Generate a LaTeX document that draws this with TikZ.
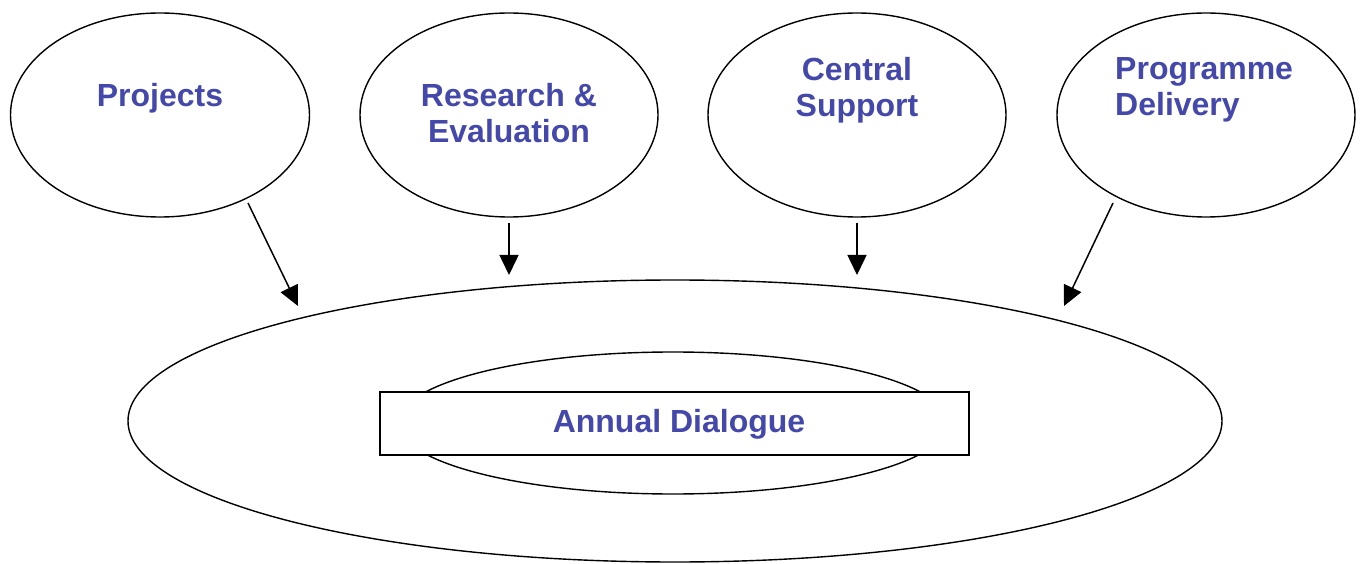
\documentclass[tikz,border=0pt]{standalone}
\usepackage{fontspec}
\setmainfont{Liberation Sans}
\usetikzlibrary{shapes.geometric,arrows.meta}
\definecolor{txtblue}{RGB}{67,72,170}
\tikzset{
  oval/.style={draw=black, line width=1.4pt, ellipse, inner sep=0pt},
  lbl/.style={text=txtblue, font=\bfseries\fontsize{32}{36}\selectfont, inner sep=0pt},
  arr/.style={line width=1.5pt, -{Triangle[length=20pt,width=19pt]}},
}
\begin{document}
\begin{tikzpicture}[x=1pt,y=-1pt]
\useasboundingbox (0,0) rectangle (1361,564);
% top ellipses
\node[oval, minimum width=299pt, minimum height=204pt] (e1) at (160,115) {};
\node[oval, minimum width=298pt, minimum height=204pt] (e2) at (509,115) {};
\node[oval, minimum width=298pt, minimum height=204pt] (e3) at (857,115) {};
\node[oval, minimum width=298pt, minimum height=204pt] (e4) at (1206,115) {};
% big ellipses
\node[oval, minimum width=1094pt, minimum height=282pt] (big) at (675,421) {};
\node[oval, minimum width=550pt, minimum height=142pt] (inner) at (673,423) {};
\node[draw=black, line width=1.4pt, fill=white, minimum width=589pt, minimum height=63pt, inner sep=0pt] (box) at (674.5,423.5) {};
% labels
\node[lbl] (t1) at (160,98) {Projects};
\node[lbl, align=center] (t2) at (509,113) {Research \&\\Evaluation};
\node[lbl, align=center] (t3) at (857,90) {Central\\Support};
\node[lbl, align=left, anchor=west] (t4) at (1115,90) {Programme\\Delivery};
\node[lbl] (t5) at (679,424) {Annual Dialogue};
% arrows
\coordinate (a1s) at (248,203); \coordinate (a1e) at (298,306);
\coordinate (a2s) at (509,223); \coordinate (a2e) at (509,275);
\coordinate (a3s) at (857,223); \coordinate (a3e) at (857,275);
\coordinate (a4s) at (1113,203); \coordinate (a4e) at (1064,306);
\draw[arr] (a1s) -- (a1e);
\draw[arr] (a2s) -- (a2e);
\draw[arr] (a3s) -- (a3e);
\draw[arr] (a4s) -- (a4e);
\end{tikzpicture}
\end{document}
